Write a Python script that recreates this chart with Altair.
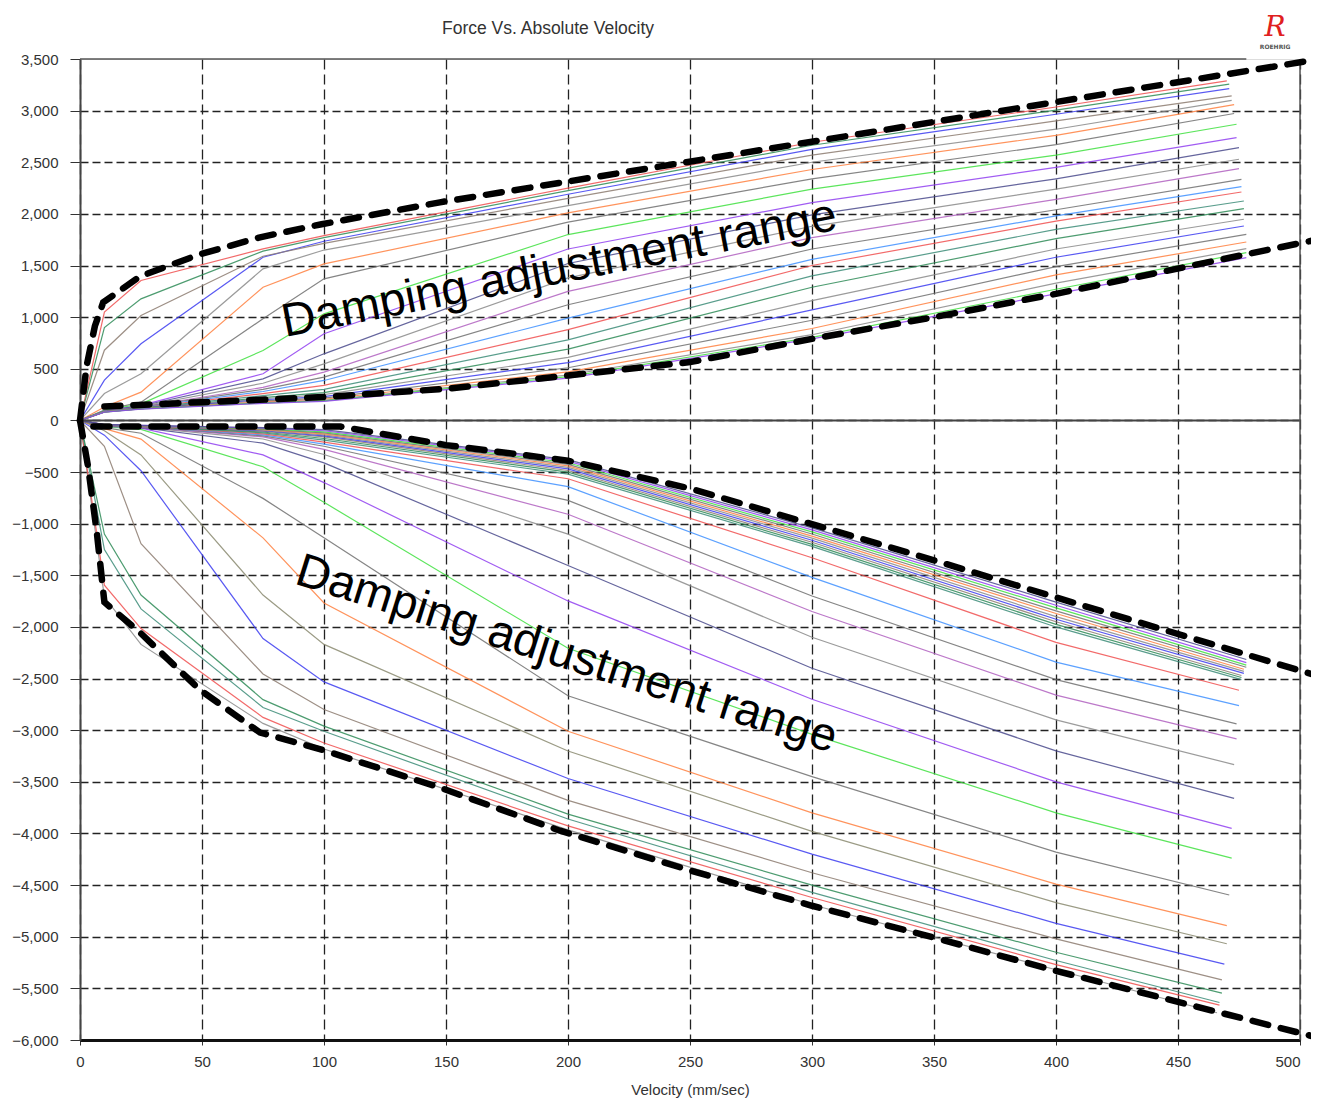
import altair as alt
import pandas as pd

# ---------------- data ----------------
VEL_GRID = [0, 10, 25, 75, 100, 200, 300, 400]   # last point of each curve = its own end velocity

# rebound (positive) curves, from stiffest (top) to softest (bottom)
UP_COLORS = ["#f05050", "#2e8b57", "#3c3cf0", "#8c7b70", "#8a8a8a", "#ff8040",
             "#707070", "#40e040", "#9040f0", "#4a4a8c", "#8a8a8a", "#b060c0",
             "#707070", "#4090ff", "#f05050", "#3c8c78", "#2e8b57", "#8a8a8a",
             "#3c3cf0", "#707070", "#ff8040", "#8a8a8a", "#40e040", "#9040f0"]
UP_END_V = [470, 471, 471, 472, 472, 473, 473, 474, 474, 475, 475, 475,
            476, 476, 476, 477, 477, 477, 477, 478, 478, 478, 478, 478]
UP_VALUES = [
    [0, 1050, 1355, 1661, 1790, 2250, 2694, 3035, 3288],
    [0, 900, 1177, 1640, 1770, 2225, 2665, 3005, 3256],
    [0, 390, 742, 1580, 1735, 2190, 2625, 2965, 3214],
    [0, 680, 1016, 1590, 1715, 2150, 2570, 2900, 3143],
    [0, 260, 452, 1468, 1650, 2080, 2500, 2820, 3100],
    [0, 130, 274, 1290, 1516, 2010, 2430, 2760, 3059],
    [0, 100, 177, 984, 1371, 1920, 2340, 2670, 2972],
    [0, 95, 160, 677, 1032, 1800, 2240, 2570, 2868],
    [0, 90, 145, 452, 839, 1660, 2110, 2450, 2739],
    [0, 90, 140, 403, 645, 1520, 1990, 2340, 2642],
    [0, 88, 135, 360, 548, 1380, 1880, 2240, 2529],
    [0, 88, 130, 320, 468, 1250, 1770, 2140, 2439],
    [0, 86, 128, 300, 420, 1120, 1660, 2040, 2335],
    [0, 86, 125, 280, 387, 990, 1560, 1980, 2264],
    [0, 85, 122, 260, 339, 880, 1500, 1930, 2212],
    [0, 85, 120, 240, 300, 780, 1400, 1850, 2125],
    [0, 84, 118, 220, 270, 690, 1290, 1760, 2051],
    [0, 84, 116, 210, 250, 610, 1160, 1660, 1948],
    [0, 83, 115, 200, 230, 560, 1070, 1580, 1883],
    [0, 83, 114, 190, 215, 510, 970, 1490, 1802],
    [0, 82, 113, 180, 205, 470, 890, 1410, 1728],
    [0, 82, 112, 172, 195, 440, 830, 1330, 1664],
    [0, 81, 111, 168, 190, 425, 805, 1270, 1625],
    [0, 80, 110, 165, 185, 410, 790, 1226, 1576],
]

# compression (negative) curves, from stiffest (bottom) to softest (top)
LO_COLORS = ["#8a8a8a", "#f05050", "#3c8c78", "#2e8b57", "#8c7b70", "#3c3cf0",
             "#8a8a70", "#ff8040", "#707070", "#40e040", "#9040f0", "#4a4a8c",
             "#8a8a8a", "#b060c0", "#707070", "#4090ff", "#f05050", "#3c8c78",
             "#2e8b57", "#8c7b70", "#3c3cf0", "#8a8a8a", "#ff8040", "#707070",
             "#40e040", "#9040f0", "#4a4a8c"]
LO_END_V = [466, 467, 467, 468, 468, 469, 470, 470, 471, 472, 472, 473, 473, 474,
            474, 475, 475, 476, 476, 476, 477, 477, 477, 478, 478, 478, 478]
LO_VALUES = [
    [0, -1711, -2169, -2934, -3182, -3965, -4690, -5320, -5736],
    [0, -1596, -2016, -2876, -3124, -3927, -4620, -5270, -5662],
    [0, -1250, -1825, -2780, -3010, -3860, -4570, -5230, -5637],
    [0, -1100, -1691, -2704, -2960, -3812, -4500, -5150, -5546],
    [0, -250, -1194, -2456, -2800, -3679, -4380, -5020, -5417],
    [0, -143, -487, -2112, -2532, -3468, -4200, -4870, -5265],
    [0, -100, -334, -1691, -2169, -3201, -3980, -4670, -5068],
    [0, -80, -181, -1137, -1768, -3010, -3800, -4490, -4893],
    [0, -70, -124, -755, -1137, -2666, -3450, -4180, -4596],
    [0, -60, -86, -449, -793, -2207, -3040, -3800, -4238],
    [0, -55, -75, -334, -602, -1748, -2700, -3500, -3950],
    [0, -50, -70, -220, -411, -1405, -2400, -3200, -3660],
    [0, -50, -65, -180, -330, -1101, -2100, -2900, -3333],
    [0, -48, -62, -160, -280, -909, -1850, -2660, -3084],
    [0, -48, -60, -150, -250, -775, -1700, -2510, -2939],
    [0, -46, -58, -140, -230, -641, -1520, -2340, -2762],
    [0, -46, -57, -130, -210, -565, -1330, -2150, -2613],
    [0, -45, -56, -120, -190, -520, -1220, -2000, -2510],
    [0, -45, -55, -112, -175, -500, -1200, -1975, -2490],
    [0, -44, -54, -105, -160, -485, -1180, -1950, -2470],
    [0, -44, -53, -100, -150, -470, -1160, -1925, -2450],
    [0, -43, -52, -95, -140, -455, -1140, -1900, -2430],
    [0, -43, -51, -90, -130, -440, -1120, -1870, -2410],
    [0, -42, -50, -85, -120, -425, -1100, -1845, -2390],
    [0, -42, -49, -80, -110, -410, -1080, -1815, -2370],
    [0, -41, -48, -75, -100, -395, -1060, -1790, -2345],
    [0, -40, -47, -70, -90, -380, -1040, -1760, -2315],
]

# hand-drawn dashed envelopes
ENV_UT_V = [0, 2.7, 6.1, 9.5, 24.6, 49, 73.8, 99, 147.5, 507.8]
ENV_UT_F = [0, 526, 914, 1143, 1395, 1608, 1773, 1900, 2112, 3498]
ENV_UB_V = [10, 50, 100, 150, 200, 250, 300, 350, 400, 507.8]
ENV_UB_F = [135, 177, 226, 306, 435, 565, 790, 1000, 1226, 1755]
ENV_LT_V = [5.5, 106.6, 150, 200, 250, 300, 350, 400, 507.8]
ENV_LT_F = [-59, -59, -239, -390, -659, -1005, -1355, -1714, -2478]
ENV_LB_V = [0, 3.3, 6.9, 10, 24.6, 49, 73.8, 99, 147.5, 196.7, 250, 300, 350, 400, 507.8]
ENV_LB_F = [0, -446, -1085, -1760, -2054, -2607, -3023, -3188, -3556, -3973,
            -4357, -4700, -5008, -5330, -5979]

ANN_TEXT = "Damping adjustment range"
ANN_V = [197.5, 197.7]
ANN_F = [1330, -2398]
ANN_ANGLE = [349, 17.5]

TITLE_TEXT = "Force Vs. Absolute Velocity"
TITLE_V = 191.8
TITLE_F = 3745

LOGO_TEXT = ["R", "ROEHRIG"]
LOGO_V = [489.8, 489.8]
LOGO_F = [3805, 3618]

# frame: top border stops short of the logo, right border full height
FRAME_TOP = {"v": [0], "v2": [478], "f": [3500]}
FRAME_RIGHT = {"v": [500], "f": [-6000], "f2": [3500]}

X_TICKS = list(range(0, 501, 50))
Y_TICKS = list(range(-6000, 3501, 500))

# ---------------- tables ----------------
rows, sids, cols = [], [], []
for prefix, vals, ends, colors in (("U", UP_VALUES, UP_END_V, UP_COLORS),
                                   ("L", LO_VALUES, LO_END_V, LO_COLORS)):
    for i, series in enumerate(vals):
        sid = f"{prefix}{i:02d}"
        sids.append(sid)
        cols.append(colors[i])
        vs = VEL_GRID + [ends[i]]
        for k, (v, f) in enumerate(zip(vs, series)):
            rows.append({"v": v, "f": f, "sid": sid, "k": k})
curves = pd.DataFrame(rows)

env_rows = []
for name, vv, ff in (("ut", ENV_UT_V, ENV_UT_F), ("ub", ENV_UB_V, ENV_UB_F),
                     ("lt", ENV_LT_V, ENV_LT_F), ("lb", ENV_LB_V, ENV_LB_F)):
    for k, (v, f) in enumerate(zip(vv, ff)):
        env_rows.append({"v": v, "f": f, "seg": name, "k": k})
env = pd.DataFrame(env_rows)

FONT = "Liberation Sans"

xscale = alt.Scale(domain=[0, 500], nice=False, zero=False)
yscale = alt.Scale(domain=[-6000, 3500], nice=False, zero=False)
xaxis = alt.Axis(values=X_TICKS, format="d", title="Velocity (mm/sec)",
                 grid=True, gridDash=[10, 5], gridColor="#222", gridWidth=1.3,
                 domainColor="#111", domainWidth=3, tickColor="#333", tickSize=5,
                 labelFont=FONT, labelFontSize=15, labelColor="#333",
                 labelPadding=9, labelFlush=False,
                 labelAlign={"condition": {"test": "datum.value >= 500", "value": "right"},
                             "value": "center"},
                 titleFont=FONT, titleFontSize=15, titleFontWeight="normal",
                 titleColor="#333", titleBaseline="alphabetic", titleY=54)
yaxis = alt.Axis(values=Y_TICKS, format=",.0f", title=None,
                 grid=True, gridDash=[8, 4], gridColor="#222", gridWidth=1.3,
                 gridOpacity={"condition": {"test": "datum.value >= 3500", "value": 0},
                              "value": 1},
                 domainColor="#444", domainWidth=2, tickColor="#333", tickSize=10,
                 labelFont=FONT, labelFontSize=15, labelColor="#333",
                 labelPadding=12)


def X(field="v"):
    return alt.X(f"{field}:Q", scale=xscale, axis=xaxis)


def Y(field="f"):
    return alt.Y(f"{field}:Q", scale=yscale, axis=yaxis)


lines = alt.Chart(curves).mark_line(strokeWidth=1.2, opacity=0.85, clip=True).encode(
    x=X(), y=Y(),
    color=alt.Color("sid:N", scale=alt.Scale(domain=sids, range=cols), legend=None),
    order="k:Q",
)

zero = alt.Chart(pd.DataFrame({"f": [0]})).mark_rule(color="#444", strokeWidth=2).encode(y=Y())

frame_top = alt.Chart(pd.DataFrame(FRAME_TOP)).mark_rule(color="#555", strokeWidth=1.5).encode(
    x=X(), x2="v2:Q", y=Y())
frame_right = alt.Chart(pd.DataFrame(FRAME_RIGHT)).mark_rule(color="#555", strokeWidth=1.5).encode(
    x=X(), y=Y(), y2="f2:Q")

dashed = alt.Chart(env).mark_line(color="black", strokeWidth=6.5, strokeDash=[16, 13],
                                  strokeCap="round", clip=False).encode(
    x=X(), y=Y(), detail="seg:N", order="k:Q")

texts = []
for v, f, a in zip(ANN_V, ANN_F, ANN_ANGLE):
    texts.append(
        alt.Chart(pd.DataFrame({"v": [v], "f": [f], "t": [ANN_TEXT]})).mark_text(
            font=FONT, fontSize=47, color="black", angle=a,
            align="center", baseline="alphabetic").encode(x=X(), y=Y(), text="t:N")
    )

title_mark = alt.Chart(pd.DataFrame({"v": [TITLE_V], "f": [TITLE_F], "t": [TITLE_TEXT]})).mark_text(
    font=FONT, fontSize=17.5, color="#333", align="center", baseline="alphabetic"
).encode(x=X(), y=Y(), text="t:N")

logo_r = alt.Chart(pd.DataFrame({"v": [LOGO_V[0]], "f": [LOGO_F[0]], "t": [LOGO_TEXT[0]]})).mark_text(
    font="DejaVu Serif", fontStyle="italic", fontSize=28, color="#e02020",
    align="center", baseline="middle").encode(x=X(), y=Y(), text="t:N")
logo_t = alt.Chart(pd.DataFrame({"v": [LOGO_V[1]], "f": [LOGO_F[1]], "t": [LOGO_TEXT[1]]})).mark_text(
    font="DejaVu Sans", fontSize=6, fontWeight="bold", color="#555",
    align="center", baseline="middle").encode(x=X(), y=Y(), text="t:N")

chart = alt.layer(lines, zero, frame_top, frame_right, dashed, *texts, title_mark,
                  logo_r, logo_t).properties(
    width=1220, height=981,
    autosize=alt.AutoSizeParams(type="none"),
    padding={"left": 72, "top": 51, "right": 11, "bottom": 59},
).configure_view(strokeWidth=0).configure(background="white")

chart.save("out.html", embed_options={"renderer": "svg", "actions": False})
